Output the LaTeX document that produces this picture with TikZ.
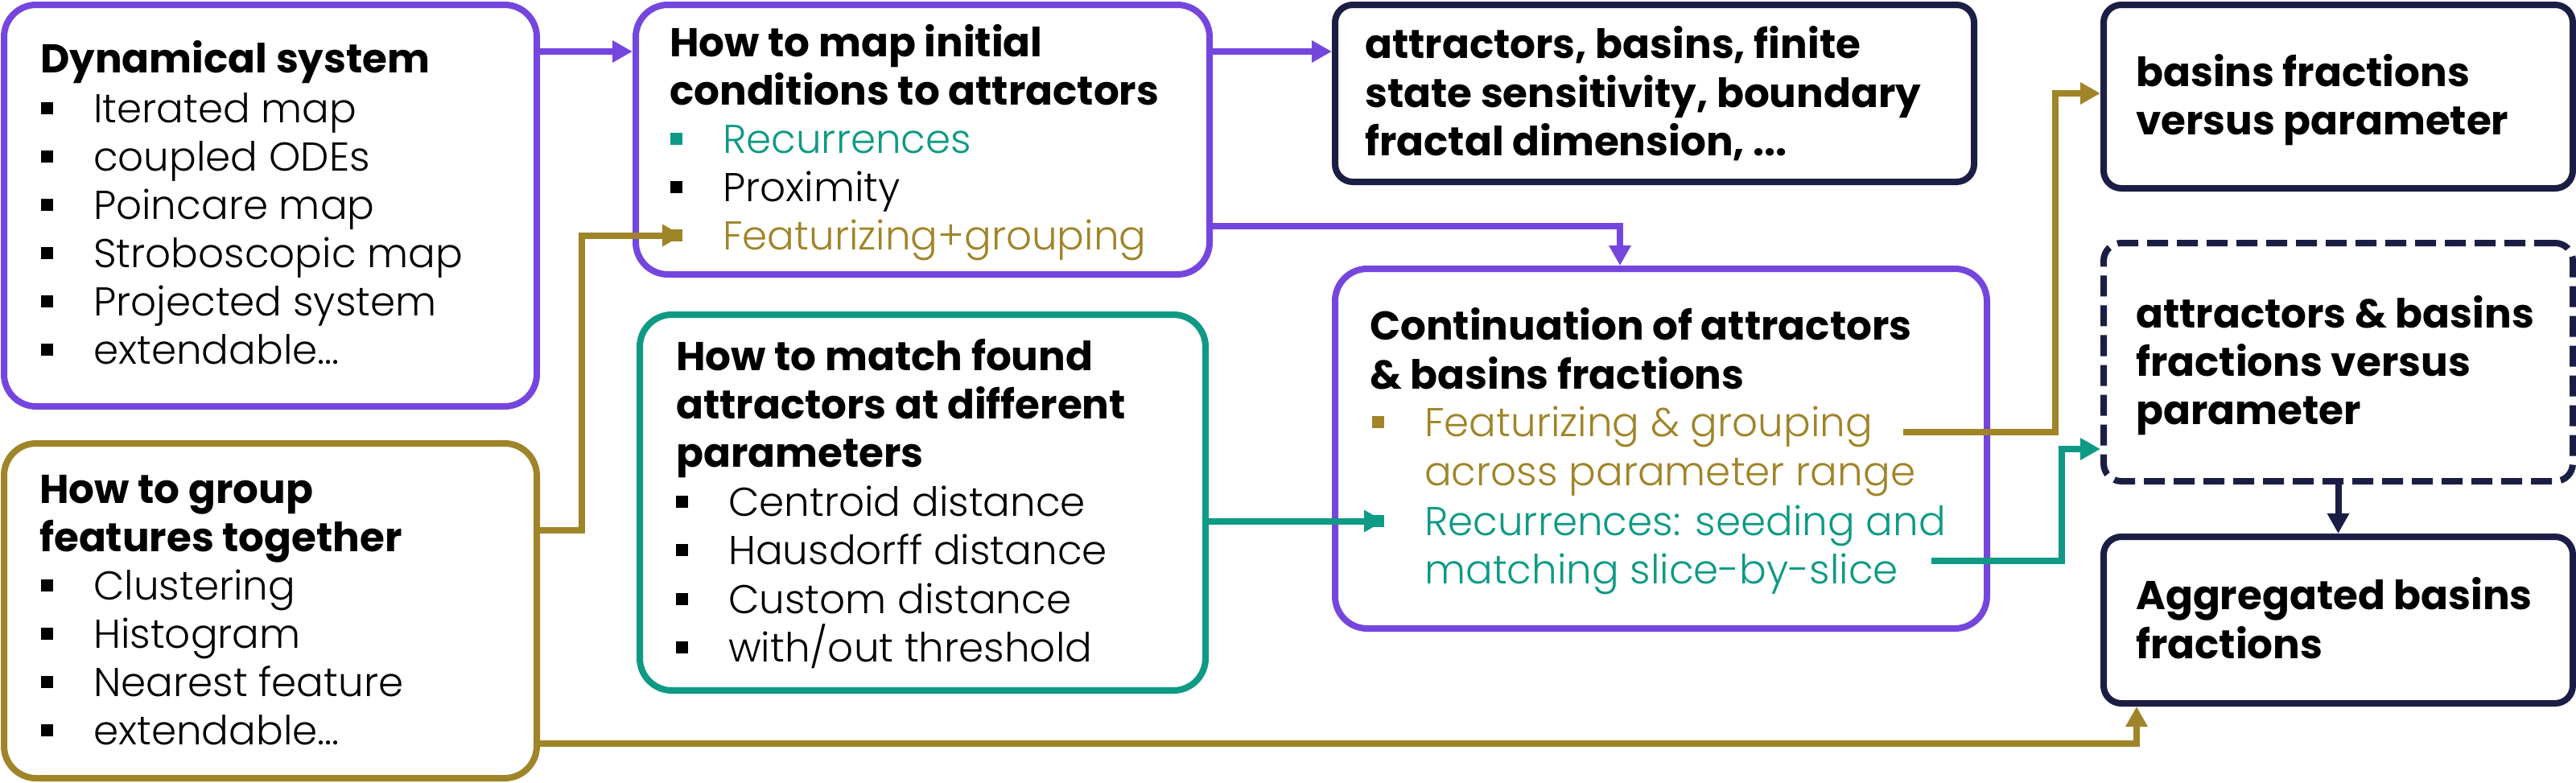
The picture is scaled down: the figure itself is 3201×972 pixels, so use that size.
\documentclass[tikz,border=0pt]{standalone}
\usepackage{fontspec}
\setmainfont{Poppins}
\IfFontExistsTF{Poppins Light}{\newfontfamily\lightf{Poppins Light}}{\newfontfamily\lightf{Poppins}}
\usetikzlibrary{arrows.meta}
\definecolor{cP}{RGB}{117,70,222}
\definecolor{cG}{RGB}{160,132,40}
\definecolor{cT}{RGB}{14,154,132}
\definecolor{cN}{RGB}{27,30,68}
\tikzset{
  box/.style={draw=#1, line width=8pt, rounded corners=40pt, outer sep=4pt, inner sep=0pt, fill=white},
  nbox/.style={draw=cN, line width=8pt, rounded corners=22pt, outer sep=4pt, inner sep=0pt, fill=white},
  tit/.style={anchor=base west, inner sep=0pt, font=\bfseries\fontsize{50}{60}\selectfont},
  itm/.style={anchor=base west, inner sep=0pt, font=\lightf\fontsize{50}{60}\selectfont},
  bul/.style={minimum size=15pt, inner sep=0pt, outer sep=0pt},
  con/.style={line width=8pt},
  arr/.style={con, -{Triangle[length=25pt,width=26pt]}}
}
\newcommand\bitem[5]{%
  \node[bul,fill=#4] (#1b) at (#2+7.5,#3-17.5) {};
  \node[itm,text=#4] (#1) at (#2+65,#3) {#5};}
\begin{document}
\begin{tikzpicture}[x=1pt,y=-1pt]
\useasboundingbox (0,0) rectangle (3201,972);
% boxes
\node[box=cP, minimum width=662pt, minimum height=499pt] (dyn) at (336,255.5) {};
\node[box=cG, minimum width=662pt, minimum height=416pt] (grp) at (336,759) {};
\node[box=cP, minimum width=713pt, minimum height=335pt] (map) at (1146.5,173.5) {};
\node[box=cT, minimum width=703pt, minimum height=467pt] (mat) at (1146.5,624.5) {};
\node[nbox, minimum width=794pt, minimum height=220pt] (att) at (2056,116) {};
\node[box=cP, minimum width=810pt, minimum height=447pt] (cont) at (2064,557.5) {};
\node[nbox, minimum width=583pt, minimum height=228pt] (bas) at (2905.5,120) {};
\node[nbox, dash pattern=on 26pt off 11pt, minimum width=583pt, minimum height=296pt] (dsh) at (2905.5,450) {};
\node[nbox, minimum width=583pt, minimum height=207pt] (agg) at (2905.5,770.5) {};
% dynamical system
\node[tit] (dynt) at (50,90) {Dynamical system};
\bitem{d1}{51}{152}{black}{Iterated map}
\bitem{d2}{51}{212}{black}{coupled ODEs}
\bitem{d3}{51}{272}{black}{Poincare map}
\bitem{d4}{51}{332}{black}{Stroboscopic map}
\bitem{d5}{51}{392}{black}{Projected system}
\bitem{d6}{51}{452}{black}{extendable...}
% group
\node[tit] (grpt1) at (49,625) {How to group};
\node[tit] (grpt2) at (49,685) {features together};
\bitem{g1}{51}{745}{black}{Clustering}
\bitem{g2}{51}{805}{black}{Histogram}
\bitem{g3}{51}{865}{black}{Nearest feature}
\bitem{g4}{51}{925}{black}{extendable...}
% map
\node[tit] (mapt1) at (832,70) {How to map initial};
\node[tit] (mapt2) at (832,130) {conditions to attractors};
\bitem{m1}{833}{190}{cT}{Recurrences}
\bitem{m2}{833}{250}{black}{Proximity}
\bitem{m3}{833}{310}{cG}{Featurizing+grouping}
% match
\node[tit] (matt1) at (840,460) {How to match found};
\node[tit] (matt2) at (840,520) {attractors at different};
\node[tit] (matt3) at (840,580) {parameters};
\bitem{a1}{840}{641}{black}{Centroid distance}
\bitem{a2}{840}{701}{black}{Hausdorff distance}
\bitem{a3}{840}{762}{black}{Custom distance}
\bitem{a4}{840}{822}{black}{with/out threshold}
% attractors
\node[tit] (att1) at (1696,72) {attractors, basins, finite};
\node[tit] (att2) at (1696,133) {state sensitivity, boundary};
\node[tit] (att3) at (1696,193) {fractal dimension, ...};
% continuation
\node[tit] (cont1) at (1702,422) {Continuation of attractors};
\node[tit] (cont2) at (1702,483) {\& basins fractions};
\bitem{c1}{1705}{542}{cG}{Featurizing \& grouping}
\node[itm,text=cG] (c2) at (1770,603) {across parameter range};
\bitem{c3}{1705}{665}{cT}{Recurrences: seeding and}
\node[itm,text=cT] (c4) at (1770,725) {matching slice-by-slice};
% right boxes
\node[tit] (bas1) at (2654,107) {basins fractions};
\node[tit] (bas2) at (2654,167) {versus parameter};
\node[tit] (dsh1) at (2654,407) {attractors \& basins};
\node[tit] (dsh2) at (2654,467) {fractions versus};
\node[tit] (dsh3) at (2654,527) {parameter};
\node[tit] (agg1) at (2654,757) {Aggregated basins};
\node[tit] (agg2) at (2654,818) {fractions};
% connectors
\coordinate (gs) at (2365,537);
\coordinate (ts) at (2400,697);
\draw[arr,cP] (dyn.east |- 0,64) -- (map.west |- 0,64);
\draw[arr,cP] (map.east |- 0,64) -- (att.west |- 0,64);
\draw[arr,cP] (map.east |- 0,281) -- (2013,281) -- (cont.north -| 2013,0);
\draw[arr,cG] (grp.east |- 0,659) -- (723,659) |- (m3b.east);
\draw[arr,cT] (mat.east |- c3b.east) -- (c3b.east);
\draw[arr,cG] (gs) -- (2554,537) -- (2554,116) -- (bas.west |- 0,116);
\draw[arr,cT] (ts) -- (2562,697) -- (2562,558) -- (dsh.west |- 0,558);
\draw[arr,cN] (dsh.south) -- (agg.north);
\draw[arr,cG] (grp.east |- 0,924) -- (2655,924) -- (agg.south -| 2655,0);
\end{tikzpicture}
\end{document}
